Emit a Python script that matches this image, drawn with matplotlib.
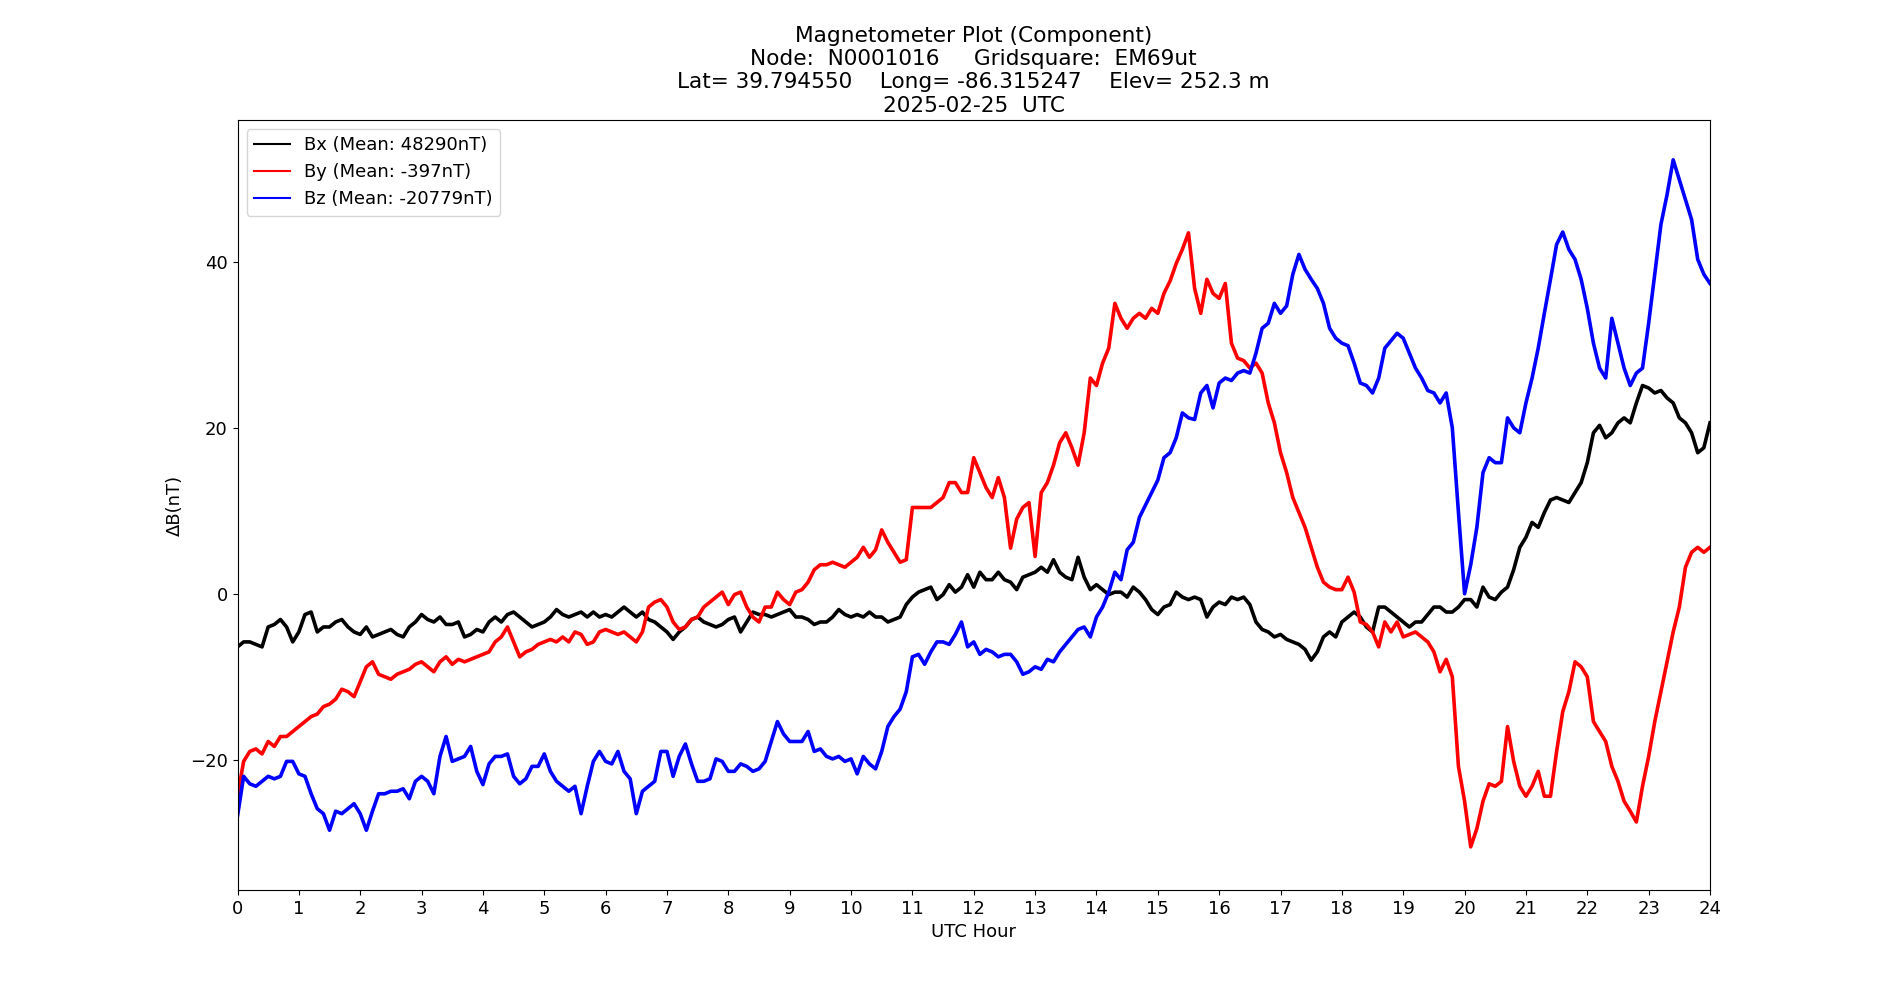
import numpy as np
import matplotlib
matplotlib.use('Agg')
import matplotlib.pyplot as plt

# Sample times (UTC hour), one reading every 0.1 h
hours = np.round(np.arange(241) * 0.1, 1)

# Delta B values in nT (mean removed)
bx = [-6.4, -5.8, -5.8, -6.1, -6.4, -4.0, -3.7, -3.1, -4.0, -5.8,
      -4.6, -2.5, -2.2, -4.6, -4.0, -4.0, -3.4, -3.1, -4.0, -4.6,
      -4.9, -4.0, -5.2, -4.9, -4.6, -4.3, -4.9, -5.2, -4.0, -3.4,
      -2.5, -3.1, -3.4, -2.8, -3.7, -3.7, -3.4, -5.2, -4.9, -4.3,
      -4.6, -3.4, -2.8, -3.4, -2.5, -2.2, -2.8, -3.4, -4.0, -3.7,
      -3.4, -2.8, -1.9, -2.5, -2.8, -2.5, -2.2, -2.8, -2.2, -2.8,
      -2.5, -2.8, -2.2, -1.6, -2.2, -2.8, -2.2, -3.1, -3.4, -4.0,
      -4.6, -5.5, -4.6, -4.0, -3.1, -2.8, -3.4, -3.7, -4.0, -3.7,
      -3.1, -2.8, -4.6, -3.4, -2.2, -2.5, -2.5, -2.8, -2.5, -2.2,
      -1.9, -2.8, -2.8, -3.1, -3.7, -3.4, -3.4, -2.8, -1.9, -2.5,
      -2.8, -2.5, -2.8, -2.2, -2.8, -2.8, -3.4, -3.1, -2.8, -1.3,
      -0.4, 0.2, 0.5, 0.8, -0.7, -0.1, 1.1, 0.2, 0.8, 2.3,
      0.8, 2.6, 1.7, 1.7, 2.6, 1.7, 1.4, 0.5, 2.0, 2.3,
      2.6, 3.2, 2.6, 4.1, 2.6, 2.0, 1.7, 4.4, 2.0, 0.5,
      1.1, 0.5, -0.1, 0.2, 0.2, -0.4, 0.8, 0.2, -0.7, -1.9,
      -2.5, -1.6, -1.3, 0.2, -0.4, -0.7, -0.4, -0.7, -2.8, -1.6,
      -1.0, -1.3, -0.4, -0.7, -0.4, -1.3, -3.4, -4.3, -4.6, -5.2,
      -4.9, -5.5, -5.8, -6.1, -6.7, -8.0, -7.0, -5.2, -4.6, -5.2,
      -3.4, -2.8, -2.2, -2.8, -4.0, -4.6, -1.6, -1.6, -2.2, -2.8,
      -3.4, -4.0, -3.4, -3.4, -2.5, -1.6, -1.6, -2.2, -2.2, -1.6,
      -0.7, -0.7, -1.6, 0.8, -0.4, -0.7, 0.2, 0.8, 2.9, 5.6,
      6.8, 8.6, 8.0, 9.8, 11.3, 11.6, 11.3, 11.0, 12.2, 13.4,
      15.8, 19.4, 20.3, 18.8, 19.4, 20.6, 21.2, 20.6, 23.0, 25.1,
      24.8, 24.2, 24.5, 23.6, 23.0, 21.2, 20.6, 19.4, 17.0, 17.6,
      20.6]

by = [-24.4, -20.2, -19.0, -18.7, -19.3, -17.8, -18.4, -17.2, -17.2, -16.6,
      -16.0, -15.4, -14.8, -14.5, -13.6, -13.3, -12.7, -11.5, -11.8, -12.4,
      -10.6, -8.8, -8.2, -9.7, -10.0, -10.3, -9.7, -9.4, -9.1, -8.5,
      -8.2, -8.8, -9.4, -8.2, -7.6, -8.5, -7.9, -8.2, -7.9, -7.6,
      -7.3, -7.0, -5.8, -5.2, -4.0, -5.8, -7.6, -7.0, -6.7, -6.1,
      -5.8, -5.5, -5.8, -5.2, -5.8, -4.6, -4.9, -6.1, -5.8, -4.6,
      -4.3, -4.6, -4.9, -4.6, -5.2, -5.8, -4.6, -1.6, -1.0, -0.7,
      -1.6, -3.4, -4.3, -4.0, -3.1, -2.8, -1.6, -1.0, -0.4, 0.2,
      -1.3, -0.1, 0.2, -1.6, -2.8, -3.4, -1.6, -1.6, 0.2, -0.7,
      -1.3, 0.2, 0.5, 1.4, 2.9, 3.5, 3.5, 3.8, 3.5, 3.2,
      3.8, 4.4, 5.6, 4.4, 5.3, 7.7, 6.2, 5.0, 3.8, 4.1,
      10.4, 10.4, 10.4, 10.4, 11.0, 11.6, 13.4, 13.4, 12.2, 12.2,
      16.4, 14.6, 12.8, 11.6, 14.0, 11.6, 5.5, 9.0, 10.4, 11.0,
      4.5, 12.2, 13.4, 15.5, 18.2, 19.4, 17.6, 15.5, 19.4, 26.0,
      25.1, 27.8, 29.6, 35.0, 33.2, 32.0, 33.2, 33.8, 33.2, 34.4,
      33.8, 36.2, 37.7, 39.8, 41.5, 43.5, 36.8, 33.8, 37.9, 36.2,
      35.6, 37.4, 30.2, 28.4, 28.1, 27.2, 27.8, 26.6, 23.0, 20.6,
      17.0, 14.6, 11.6, 9.8, 8.0, 5.6, 3.2, 1.4, 0.8, 0.5,
      0.5, 2.0, 0.2, -3.4, -3.7, -4.6, -6.4, -3.4, -4.6, -3.4,
      -5.2, -4.9, -4.6, -5.2, -5.8, -7.0, -9.4, -7.9, -10.0, -20.8,
      -25.0, -30.5, -28.3, -25.0, -22.9, -23.2, -22.6, -16.0, -20.2, -23.2,
      -24.4, -23.2, -21.4, -24.4, -24.4, -19.0, -14.2, -11.8, -8.2, -8.8,
      -10.0, -15.4, -16.6, -17.8, -20.8, -22.6, -25.0, -26.2, -27.5, -23.2,
      -19.6, -15.4, -11.8, -8.2, -4.6, -1.6, 3.2, 5.0, 5.6, 5.0,
      5.6]

bz = [-26.8, -22.0, -22.9, -23.2, -22.6, -22.0, -22.3, -22.0, -20.2, -20.2,
      -21.7, -22.0, -24.1, -25.9, -26.5, -28.5, -26.2, -26.5, -25.9, -25.3,
      -26.5, -28.5, -26.2, -24.1, -24.1, -23.8, -23.8, -23.5, -24.7, -22.6,
      -22.0, -22.6, -24.1, -19.6, -17.2, -20.2, -19.9, -19.6, -18.4, -21.4,
      -23.0, -20.5, -19.6, -19.6, -19.3, -22.0, -22.9, -22.3, -20.8, -20.8,
      -19.3, -21.4, -22.6, -23.2, -23.8, -23.2, -26.5, -23.2, -20.2, -19.0,
      -20.2, -20.5, -19.0, -21.4, -22.3, -26.5, -23.8, -23.2, -22.6, -19.0,
      -19.0, -22.0, -19.6, -18.1, -20.5, -22.6, -22.6, -22.3, -19.9, -20.2,
      -21.4, -21.4, -20.5, -20.8, -21.4, -21.1, -20.2, -17.8, -15.4, -16.9,
      -17.8, -17.8, -17.8, -16.6, -19.0, -18.7, -19.6, -19.9, -19.6, -20.2,
      -19.9, -21.7, -19.6, -20.5, -21.1, -19.0, -16.0, -14.8, -13.9, -11.8,
      -7.6, -7.3, -8.5, -7.0, -5.8, -5.8, -6.1, -4.9, -3.4, -6.4,
      -5.8, -7.3, -6.7, -7.0, -7.6, -7.3, -7.3, -8.2, -9.7, -9.4,
      -8.8, -9.1, -7.9, -8.2, -7.0, -6.1, -5.2, -4.3, -4.0, -5.2,
      -2.8, -1.6, 0.2, 2.6, 1.7, 5.3, 6.2, 9.2, 10.7, 12.2,
      13.7, 16.4, 17.0, 18.8, 21.8, 21.2, 21.0, 24.2, 25.1, 22.4,
      25.4, 26.0, 25.7, 26.6, 26.9, 26.6, 29.0, 32.0, 32.6, 35.0,
      33.8, 34.7, 38.5, 40.9, 39.1, 37.9, 36.8, 35.0, 32.0, 30.8,
      30.2, 29.9, 27.8, 25.4, 25.1, 24.2, 26.0, 29.6, 30.5, 31.4,
      30.8, 29.0, 27.2, 26.0, 24.5, 24.2, 23.0, 24.2, 20.0, 9.8,
      0.0, 3.5, 8.0, 14.6, 16.4, 15.8, 15.8, 21.2, 20.0, 19.4,
      23.0, 26.0, 29.6, 33.8, 37.9, 42.1, 43.6, 41.5, 40.3, 37.9,
      34.4, 30.2, 27.2, 26.0, 33.2, 30.2, 27.2, 25.1, 26.6, 27.2,
      32.6, 38.5, 44.5, 48.1, 52.3, 49.9, 47.5, 45.1, 40.3, 38.5,
      37.4]

mean_x, mean_y, mean_z = 48290, -397, -20779

title = ("Magnetometer Plot (Component)\n"
         "Node:  N0001016     Gridsquare:  EM69ut\n"
         "Lat= 39.794550    Long= -86.315247    Elev= 252.3 m\n"
         "2025-02-25  UTC")

plt.rcParams['font.size'] = 13

fig, ax = plt.subplots(figsize=(19, 10), dpi=100)

# thicker lines stand in for the dense 1-second noise band of the original
ax.plot(hours, bx, color='black', linewidth=2.6, solid_joinstyle='round', label=f'Bx (Mean: {mean_x}nT)')
ax.plot(hours, by, color='red', linewidth=2.6, solid_joinstyle='round', label=f'By (Mean: {mean_y}nT)')
ax.plot(hours, bz, color='blue', linewidth=2.6, solid_joinstyle='round', label=f'Bz (Mean: {mean_z}nT)')

ax.set_xlim(0, 24)
ax.set_xticks(range(0, 25))
ax.set_ylim(-35.7, 57.1)
ax.set_xlabel('UTC Hour')
ax.set_ylabel('ΔB(nT)')
ax.set_title(title, fontsize='large')
leg = ax.legend(loc='upper left')
for line in leg.get_lines():
    line.set_linewidth(1.5)

plt.savefig('out.png')
plt.close()
